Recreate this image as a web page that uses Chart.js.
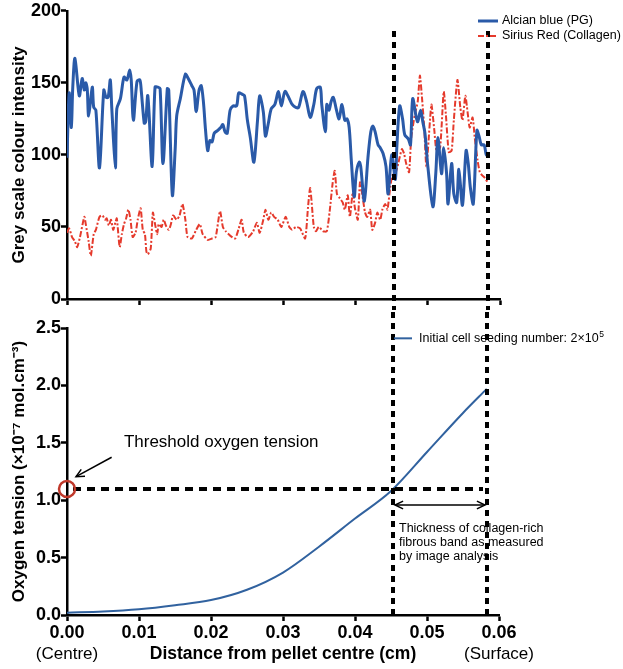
<!DOCTYPE html>
<html>
<head>
<meta charset="utf-8">
<script src="https://cdn.jsdelivr.net/npm/chart.js@4.4.0/dist/chart.umd.min.js"></script>
<style>
  html, body { margin: 0; padding: 0; background: #fff; }
  #wrap { position: relative; width: 623px; height: 669px; }
  canvas { position: absolute; left: 0; }
  #topChart { top: 0; }
  #bottomChart { top: 310px; }
</style>
</head>
<body>
<div id="wrap">
  <canvas id="topChart" width="623" height="310"></canvas>
  <canvas id="bottomChart" width="623" height="359"></canvas>
</div>
<script>
// Alcian blue (PG) profile
const alcianX = [0.0000, 0.0003, 0.0006, 0.0008, 0.0011, 0.0017, 0.0021, 0.0024, 0.0026, 0.0028, 0.0030, 0.0035, 0.0037, 0.0040, 0.0045,
  0.0051, 0.0054, 0.0057, 0.0060, 0.0062, 0.0067, 0.0069, 0.0074, 0.0079, 0.0083, 0.0087, 0.0089, 0.0092, 0.0097, 0.0101, 0.0103,
  0.0107, 0.0109, 0.0112, 0.0118, 0.0122, 0.0126, 0.0129, 0.0133, 0.0139, 0.0141, 0.0146, 0.0150, 0.0152, 0.0157, 0.0164, 0.0168,
  0.0173, 0.0176, 0.0179, 0.0183, 0.0186, 0.0189, 0.0192, 0.0195, 0.0198, 0.0201, 0.0204, 0.0209, 0.0213, 0.0216, 0.0219, 0.0222,
  0.0226, 0.0230, 0.0235, 0.0238, 0.0243, 0.0246, 0.0250, 0.0254, 0.0259, 0.0264, 0.0267, 0.0272, 0.0275, 0.0279, 0.0283, 0.0288,
  0.0293, 0.0297, 0.0302, 0.0308, 0.0312, 0.0317, 0.0321, 0.0327, 0.0332, 0.0337, 0.0342, 0.0346, 0.0351, 0.0353, 0.0358, 0.0360,
  0.0363, 0.0366, 0.0369, 0.0373, 0.0377, 0.0381, 0.0385, 0.0388, 0.0391, 0.0394, 0.0398, 0.0401, 0.0405, 0.0407, 0.0412, 0.0417,
  0.0421, 0.0424, 0.0427, 0.0431, 0.0434, 0.0438, 0.0442, 0.0445, 0.0450, 0.0455, 0.0457, 0.0461, 0.0465, 0.0468, 0.0473, 0.0476,
  0.0479, 0.0484, 0.0486, 0.0490, 0.0493, 0.0496, 0.0500, 0.0507, 0.0511, 0.0514, 0.0519, 0.0522, 0.0526, 0.0528, 0.0533, 0.0536,
  0.0540, 0.0543, 0.0548, 0.0553, 0.0556, 0.0559, 0.0563, 0.0568, 0.0571, 0.0574, 0.0578, 0.0581, 0.0583];
const alcianY = [98, 143, 119, 147, 167, 141, 153, 145, 150, 146, 127, 147, 133, 131, 91,
  145, 140, 140, 152, 133, 91, 132, 139, 154, 152, 159, 152, 124, 151, 152, 144,
  122, 123, 141, 92, 147, 147, 146, 94, 146, 145, 72, 105, 127, 139, 156, 153,
  148, 145, 130, 145, 148, 137, 117, 103, 110, 109, 115, 117, 119, 121, 116, 115,
  131, 134, 134, 143, 142, 141, 124, 112, 95, 124, 141, 130, 113, 122, 132, 135,
  144, 134, 144, 139, 135, 133, 133, 144, 137, 126, 135, 146, 147, 135, 116, 135,
  131, 137, 140, 132, 125, 135, 124, 125, 119, 96, 71, 88, 95, 92, 68, 98,
  116, 120, 116, 107, 105, 101, 92, 73, 100, 83, 105, 134, 125, 114, 111, 107,
  139, 126, 123, 131, 123, 115, 92, 64, 87, 112, 87, 105, 87, 66, 94, 73,
  67, 90, 65, 103, 94, 77, 66, 117, 113, 107, 107, 100, 99];

// Sirius Red (Collagen) profile
const siriusX = [0.0000, 0.0003, 0.0007, 0.0011, 0.0014, 0.0018, 0.0024, 0.0026, 0.0030, 0.0033, 0.0037, 0.0040, 0.0045, 0.0049, 0.0053,
  0.0055, 0.0058, 0.0061, 0.0064, 0.0067, 0.0069, 0.0073, 0.0076, 0.0079, 0.0082, 0.0085, 0.0088, 0.0091, 0.0095, 0.0098, 0.0102,
  0.0105, 0.0108, 0.0110, 0.0112, 0.0116, 0.0119, 0.0122, 0.0125, 0.0127, 0.0131, 0.0134, 0.0137, 0.0141, 0.0144, 0.0147, 0.0152,
  0.0156, 0.0160, 0.0164, 0.0167, 0.0173, 0.0179, 0.0184, 0.0188, 0.0195, 0.0201, 0.0206, 0.0212, 0.0216, 0.0220, 0.0226, 0.0233,
  0.0238, 0.0242, 0.0245, 0.0251, 0.0258, 0.0263, 0.0267, 0.0272, 0.0275, 0.0279, 0.0283, 0.0287, 0.0292, 0.0297, 0.0303, 0.0308,
  0.0312, 0.0317, 0.0323, 0.0330, 0.0334, 0.0337, 0.0342, 0.0345, 0.0349, 0.0355, 0.0360, 0.0364, 0.0368, 0.0371, 0.0374, 0.0378,
  0.0382, 0.0385, 0.0389, 0.0392, 0.0396, 0.0399, 0.0403, 0.0406, 0.0409, 0.0413, 0.0416, 0.0420, 0.0423, 0.0427, 0.0430, 0.0434,
  0.0437, 0.0441, 0.0444, 0.0448, 0.0451, 0.0455, 0.0459, 0.0464, 0.0467, 0.0470, 0.0474, 0.0477, 0.0482, 0.0486, 0.0489, 0.0492,
  0.0495, 0.0498, 0.0503, 0.0505, 0.0509, 0.0512, 0.0517, 0.0522, 0.0525, 0.0529, 0.0533, 0.0536, 0.0541, 0.0545, 0.0548, 0.0552,
  0.0555, 0.0558, 0.0562, 0.0565, 0.0569, 0.0572, 0.0575, 0.0579, 0.0583];
const siriusY = [46, 49, 43, 40, 36, 43, 57, 52, 40, 30, 45, 48, 57, 58, 55,
  56, 51, 55, 48, 53, 56, 36, 45, 52, 56, 62, 55, 43, 46, 55, 63,
  48, 45, 33, 31, 35, 60, 52, 45, 52, 50, 55, 51, 48, 52, 58, 55,
  58, 66, 55, 43, 42, 48, 52, 45, 41, 42, 43, 61, 50, 47, 44, 42,
  49, 55, 46, 43, 47, 53, 46, 55, 62, 55, 60, 57, 55, 50, 57, 50,
  48, 50, 49, 42, 64, 77, 50, 47, 50, 47, 47, 61, 80, 89, 73, 70,
  67, 62, 72, 57, 74, 63, 55, 81, 73, 60, 57, 62, 48, 53, 60, 55,
  62, 66, 62, 78, 86, 87, 94, 104, 101, 94, 88, 112, 128, 137, 155, 139,
  119, 92, 124, 135, 117, 103, 105, 144, 128, 102, 103, 124, 152, 133, 124, 141,
  130, 119, 126, 112, 96, 88, 86, 84, 81];

// Oxygen tension model, initial cell seeding 2x10^5
const distance = [0, 0.005, 0.01, 0.015, 0.02, 0.025, 0.03, 0.035, 0.04, 0.045, 0.05, 0.055, 0.0583];
const oxygen = [0.02, 0.03, 0.05, 0.085, 0.13, 0.22, 0.37, 0.595, 0.84, 1.08, 1.42, 1.76, 1.97];

const bandEdges = [0.0453, 0.0583];
const threshold = 1.1;

const blueColor = "#2a5aa8";
const redColor = "#e53a2c";
const curveColor = "#31629f";
const fontFamily = "'Liberation Sans', Arial, sans-serif";

Chart.defaults.font.family = fontFamily;
Chart.defaults.color = "#000";

function toPoints(xs, ys) {
    return xs.map((x, i) => ({ x: x, y: ys[i] }));
}

function axisStyle() {
    return {
        border: { display: true, color: "#000", width: 2.5 },
        grid: { display: true, drawOnChartArea: false, drawTicks: true, tickLength: 6, tickColor: "#000", tickWidth: 2.5 }
    };
}

function arrowHead(ctx, x1, y1, x2, y2, size) {
    const a = Math.atan2(y2 - y1, x2 - x1);
    ctx.beginPath();
    ctx.moveTo(x2 - size * Math.cos(a - 0.45), y2 - size * Math.sin(a - 0.45));
    ctx.lineTo(x2, y2);
    ctx.lineTo(x2 - size * Math.cos(a + 0.45), y2 - size * Math.sin(a + 0.45));
    ctx.stroke();
}

function arrow(ctx, x1, y1, x2, y2, both) {
    ctx.beginPath();
    ctx.moveTo(x1, y1);
    ctx.lineTo(x2, y2);
    ctx.stroke();
    arrowHead(ctx, x1, y1, x2, y2, 9);
    if (both) arrowHead(ctx, x2, y2, x1, y1, 9);
}

const topOverlay = {
    id: "topOverlay",
    afterDatasetsDraw(chart) {
        const ctx = chart.ctx, xs = chart.scales.x, ys = chart.scales.y;
        ctx.save();
        ctx.strokeStyle = "#000";
        ctx.lineWidth = 4;
        ctx.setLineDash([6, 5]);
        bandEdges.forEach(function (e) {
            const px = Math.round(xs.getPixelForValue(e));
            ctx.beginPath();
            ctx.moveTo(px, ys.getPixelForValue(186));
            ctx.lineTo(px, chart.height);
            ctx.stroke();
        });

        // legend
        ctx.setLineDash([]);
        ctx.lineWidth = 3;
        ctx.strokeStyle = blueColor;
        ctx.beginPath(); ctx.moveTo(478, 21); ctx.lineTo(498, 21); ctx.stroke();
        ctx.lineWidth = 2;
        ctx.strokeStyle = redColor;
        ctx.setLineDash([6, 2, 2, 2]);
        ctx.beginPath(); ctx.moveTo(478, 36); ctx.lineTo(498, 36); ctx.stroke();
        ctx.setLineDash([]);
        ctx.fillStyle = "#000";
        ctx.font = "12.5px " + fontFamily;
        ctx.textBaseline = "middle";
        ctx.fillText("Alcian blue (PG)", 502, 21);
        ctx.fillText("Sirius Red (Collagen)", 502, 36);
        ctx.restore();
    }
};

const bottomOverlay = {
    id: "bottomOverlay",
    afterDatasetsDraw(chart) {
        const ctx = chart.ctx, xs = chart.scales.x, ys = chart.scales.y;
        const area = chart.chartArea;
        const e1 = Math.round(xs.getPixelForValue(bandEdges[0]));
        const e2 = Math.round(xs.getPixelForValue(bandEdges[1]));
        const ty = Math.round(ys.getPixelForValue(threshold));
        ctx.save();

        ctx.strokeStyle = "#000";
        ctx.lineWidth = 4;
        ctx.setLineDash([6, 5]);
        [e1, e2].forEach(function (px) {
            ctx.beginPath();
            ctx.moveTo(px, 2);
            ctx.lineTo(px, area.bottom + 2);
            ctx.stroke();
        });
        ctx.setLineDash([8, 6]);
        ctx.beginPath();
        ctx.moveTo(xs.getPixelForValue(0) + 6, ty);
        ctx.lineTo(e2 - 4, ty);
        ctx.stroke();
        ctx.setLineDash([]);

        // threshold marker
        ctx.strokeStyle = "#c0392b";
        ctx.lineWidth = 2.5;
        ctx.beginPath();
        ctx.arc(xs.getPixelForValue(0), ty, 8, 0, Math.PI * 2);
        ctx.stroke();

        ctx.strokeStyle = "#000";
        ctx.lineWidth = 1.5;
        arrow(ctx, xs.getPixelForValue(0.0062), ys.getPixelForValue(1.374),
            xs.getPixelForValue(0.00125), ys.getPixelForValue(1.205), false);

        const ay = ys.getPixelForValue(0.958);
        arrow(ctx, e1 + 2, ay, e2 - 2, ay, true);

        ctx.fillStyle = "#000";
        ctx.textBaseline = "alphabetic";
        ctx.font = "17px " + fontFamily;
        ctx.fillText("Threshold oxygen tension", xs.getPixelForValue(0.0079), ys.getPixelForValue(1.467));

        ctx.font = "12.5px " + fontFamily;
        ["Thickness of collagen-rich", "fibrous band as measured", "by image analysis"].forEach(function (t, i) {
            ctx.fillText(t, e1 + 6, ys.getPixelForValue(0.726) + i * 14.4);
        });

        // legend
        const ly = ys.getPixelForValue(2.41);
        ctx.strokeStyle = curveColor;
        ctx.lineWidth = 2;
        ctx.beginPath(); ctx.moveTo(e1 + 1, ly); ctx.lineTo(e1 + 19, ly); ctx.stroke();
        ctx.textBaseline = "middle";
        const label = "Initial cell seeding number: 2\u00d710";
        ctx.fillText(label, e1 + 26, ly);
        const w = ctx.measureText(label).width;
        ctx.font = "8.5px " + fontFamily;
        ctx.fillText("5", e1 + 26 + w + 0.5, ly - 4);

        ctx.font = "17px " + fontFamily;
        ctx.textAlign = "center";
        ctx.fillText("(Centre)", xs.getPixelForValue(0), 344);
        ctx.fillText("(Surface)", xs.getPixelForValue(0.06), 344);
        ctx.restore();
    }
};

const tickFont = { size: 18, weight: "bold" };
const titleFont = { size: 17, weight: "bold" };

new Chart(document.getElementById("topChart").getContext("2d"), {
    type: "line",
    data: {
        datasets: [{
            label: "Alcian blue (PG)",
            data: toPoints(alcianX, alcianY),
            borderColor: blueColor,
            borderWidth: 3,
            pointRadius: 0,
            tension: 0.3,
            fill: false
        }, {
            label: "Sirius Red (Collagen)",
            data: toPoints(siriusX, siriusY),
            borderColor: redColor,
            borderWidth: 2,
            borderDash: [6, 2, 2, 2],
            pointRadius: 0,
            tension: 0.2,
            fill: false
        }]
    },
    options: {
        responsive: false,
        animation: false,
        layout: { padding: { left: 0, right: 123, top: 10, bottom: 0 } },
        plugins: { legend: { display: false }, tooltip: { enabled: false } },
        scales: {
            x: Object.assign(axisStyle(), {
                type: "linear", min: 0, max: 0.06,
                ticks: { stepSize: 0.01, display: false },
                afterFit: function (s) { s.height = 11; }
            }),
            y: Object.assign(axisStyle(), {
                min: 0, max: 200,
                ticks: { stepSize: 50, font: tickFont, padding: 0 },
                title: { display: true, text: "Grey scale colour intensity", font: titleFont, padding: { top: 9, bottom: 0 } },
                afterFit: function (s) { s.width = 67; }
            })
        }
    },
    plugins: [topOverlay]
});

new Chart(document.getElementById("bottomChart").getContext("2d"), {
    type: "line",
    data: {
        datasets: [{
            label: "Initial cell seeding number: 2\u00d710\u2075",
            data: toPoints(distance, oxygen),
            borderColor: curveColor,
            borderWidth: 2,
            pointRadius: 0,
            cubicInterpolationMode: "monotone",
            fill: false
        }]
    },
    options: {
        responsive: false,
        animation: false,
        layout: { padding: { left: 0, right: 124, top: 18, bottom: 0 } },
        plugins: { legend: { display: false }, tooltip: { enabled: false } },
        scales: {
            x: Object.assign(axisStyle(), {
                type: "linear", min: 0, max: 0.06,
                ticks: { stepSize: 0.01, font: tickFont, padding: 1, autoSkip: false, maxRotation: 0,
                    callback: function (v) { return v.toFixed(2); } },
                title: { display: true, text: "Distance from pellet centre (cm)", font: { size: 17.5, weight: "bold" }, padding: { top: 0, bottom: 4.5 } },
                afterFit: function (s) { s.height = 54; }
            }),
            y: Object.assign(axisStyle(), {
                min: 0, max: 2.5,
                ticks: { stepSize: 0.5, font: tickFont, padding: 0, callback: function (v) { return v.toFixed(1); } },
                title: { display: true, text: "Oxygen tension (\u00d710\u207b\u2077 mol.cm\u207b\u00b3)", font: titleFont, padding: { top: 9, bottom: 0 } },
                afterFit: function (s) { s.width = 67; }
            })
        }
    },
    plugins: [bottomOverlay]
});
</script>
</body>
</html>
